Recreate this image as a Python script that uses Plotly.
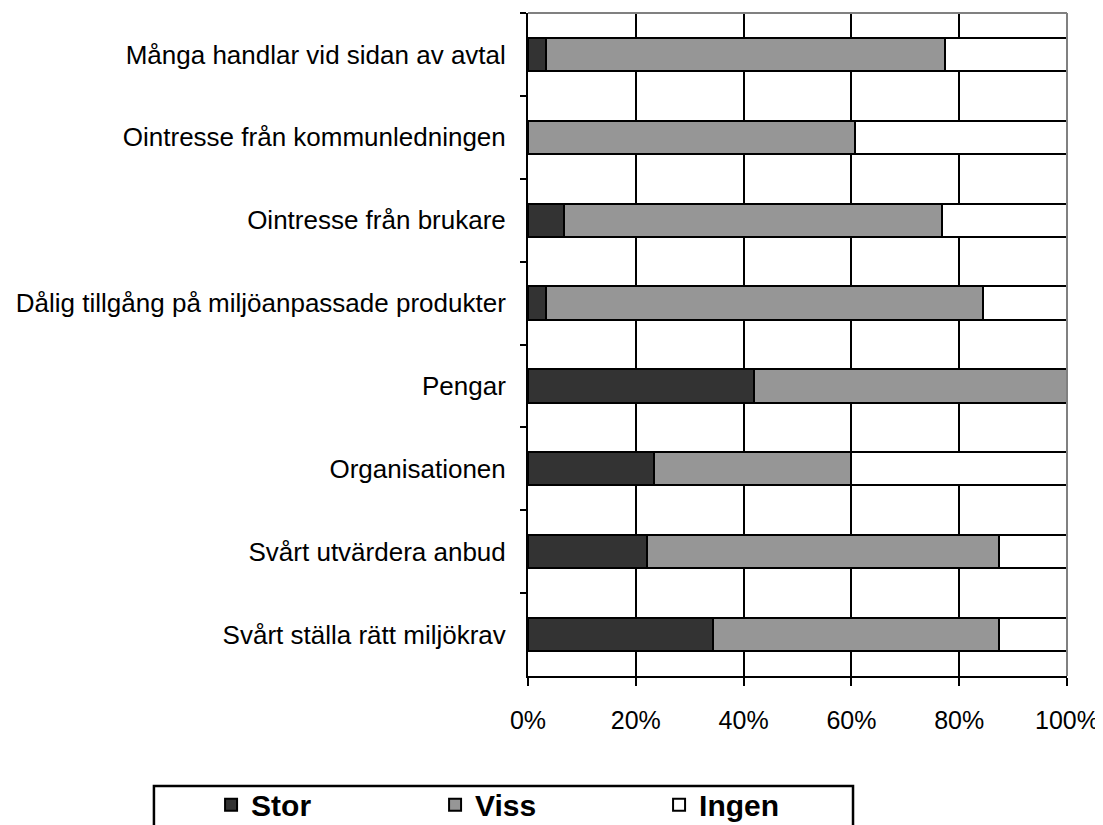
import plotly.graph_objects as go

# ── Data ──────────────────────────────────────────────────────────────────────
categories = [
    "Många handlar vid sidan av avtal",
    "Ointresse från kommunledningen",
    "Ointresse från brukare",
    "Dålig tillgång på miljöanpassade produkter",
    "Pengar",
    "Organisationen",
    "Svårt utvärdera anbud",
    "Svårt ställa rätt miljökrav",
]
stor  = [3.3, 0.0, 6.7, 3.3, 42.0, 23.4, 22.0, 34.4]
viss  = [74.1, 60.6, 70.1, 81.1, 58.0, 36.6, 65.4, 53.0]
ingen = [22.6, 39.4, 23.2, 15.6, 0.0, 40.0, 12.6, 12.6]

x_ticks = [0, 20, 40, 60, 80, 100]
x_ticktext = ["0%", "20%", "40%", "60%", "80%", "100%"]

# ── Style ─────────────────────────────────────────────────────────────────────
FONT = "Liberation Sans, Arial, sans-serif"
series = [
    ("Stor", stor, "#333333"),
    ("Viss", viss, "#969696"),
    ("Ingen", ingen, "#ffffff"),
]

fig = go.Figure()
for name, vals, color in series:
    fig.add_trace(go.Bar(
        y=categories, x=vals,
        name=name,
        orientation="h",
        marker=dict(color=color, line=dict(color="#000000", width=2)),
    ))

# page body has an 8px margin, so the figure is 8px smaller than the window
fig.update_layout(
    width=1095, height=817,
    barmode="stack",
    bargap=0.6,
    paper_bgcolor="white",
    plot_bgcolor="white",
    font=dict(family=FONT, size=26, color="#000000"),
    margin=dict(l=520, r=36, t=5, b=149, autoexpand=False),
    legend=dict(
        orientation="h",
        x=-0.588, xanchor="left",
        y=-0.155, yanchor="top",
        borderwidth=0,
        bgcolor="rgba(0,0,0,0)",
        font=dict(family=FONT, size=30, color="#000000", weight="bold"),
        entrywidth=179,
        traceorder="normal",
    ),
    xaxis=dict(
        range=[0, 100],
        tickvals=x_ticks, ticktext=x_ticktext,
        tickfont=dict(size=25),
        showgrid=True, gridcolor="#000000", gridwidth=1.5,
        showline=True, linecolor="#000000", linewidth=2,
        ticks="outside", ticklen=8, tickwidth=2, tickcolor="#000000",
        ticklabelstandoff=13,
        zeroline=False,
        fixedrange=True,
    ),
    yaxis=dict(
        autorange="reversed",
        tickson="boundaries",
        showgrid=False,
        showline=True, linecolor="#000000", linewidth=2,
        ticks="outside", ticklen=6, tickwidth=2, tickcolor="#000000",
        ticklabelstandoff=15,
        fixedrange=True,
    ),
)

# plot area border on top and right (grey, as in the original)
fig.add_shape(type="line", xref="paper", yref="paper", x0=0, x1=1, y0=1, y1=1,
              line=dict(color="#808080", width=2), layer="above")
fig.add_shape(type="line", xref="paper", yref="paper", x0=1, x1=1, y0=0, y1=1,
              line=dict(color="#808080", width=2), layer="above")

# legend frame (runs past the bottom edge like the original)
fig.add_shape(type="rect", xref="paper", yref="paper",
              x0=-0.694, x1=0.603, y0=-0.166, y1=-0.40,
              line=dict(color="#000000", width=2.5), layer="below")

fig.write_html("out.html")
